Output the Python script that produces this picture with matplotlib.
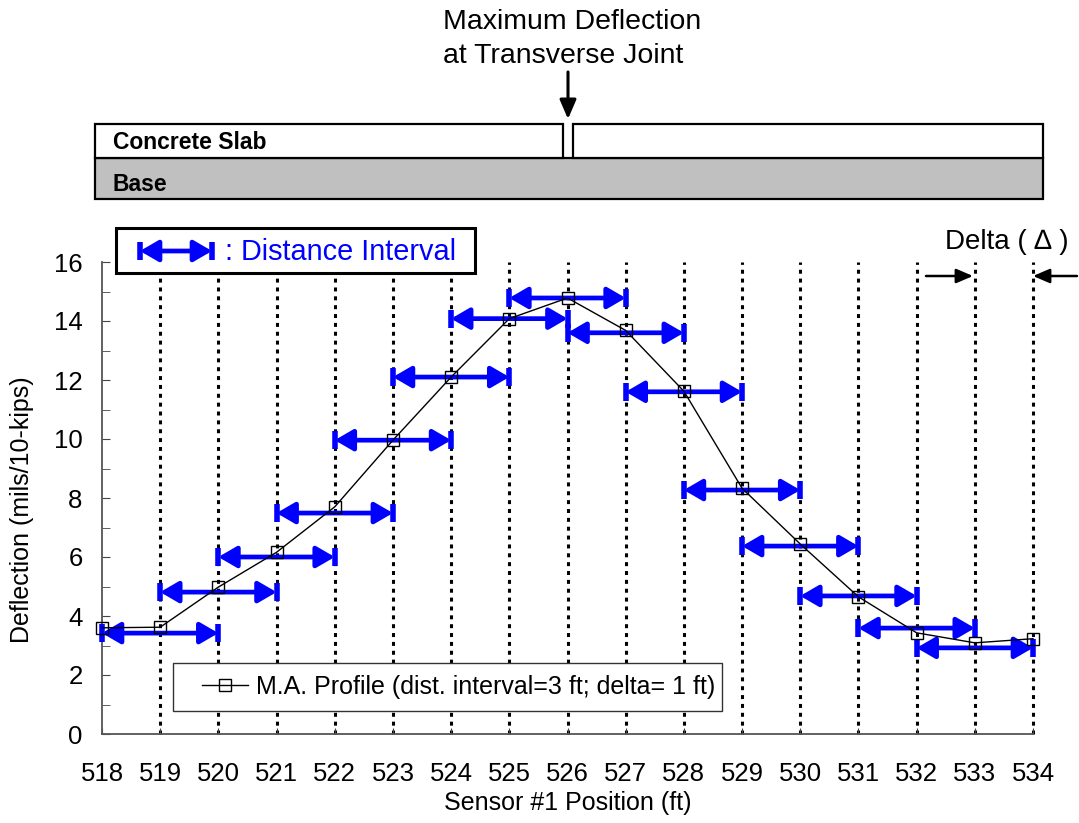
import numpy as np
import matplotlib
matplotlib.use('Agg')
import matplotlib.pyplot as plt
from matplotlib.patches import Rectangle
from matplotlib.ticker import MultipleLocator

plt.rcParams['font.family'] = ['Liberation Sans', 'DejaVu Sans']

# Moving-average profile
sensor_pos = [518, 519, 520, 521, 522, 523, 524, 525, 526, 527, 528, 529, 530, 531, 532, 533, 534]
deflection = [3.6, 3.62, 4.98, 6.16, 7.7, 9.96, 12.1, 14.08, 14.78, 13.68, 11.62, 8.33, 6.44, 4.65, 3.43, 3.09, 3.23]

# Distance intervals (3 ft window, shown between neighbouring sensors)
interval_start = [518, 519, 520, 521, 522, 523, 524, 525, 526, 527, 528, 529, 530, 531, 532]
interval_end = [520, 521, 522, 523, 524, 525, 526, 527, 528, 529, 530, 531, 532, 533, 534]
interval_y = [3.42, 4.81, 6.0, 7.49, 9.96, 12.1, 14.08, 14.78, 13.6, 11.6, 8.27, 6.37, 4.68, 3.59, 2.92]

grid_pos = [519, 520, 521, 522, 523, 524, 525, 526, 527, 528, 529, 530, 531, 532, 533, 534]

W, H = 1079, 823
fig = plt.figure(figsize=(W / 100, H / 100), dpi=100)
ax = fig.add_axes([102 / W, 1 - 734 / H, (1033 - 102) / W, (734 - 262) / H])

BLUE = '#0000ff'
ARROW = '<|-|>,head_length=0.55,head_width=0.32'

# dotted sensor lines
for xp in grid_pos:
    ax.plot([xp, xp], [0, 16], color='black', lw=2.2, ls=(0, (1.3, 1.6)), zorder=1, clip_on=False)

# distance interval arrows
for x0, x1, yv in zip(interval_start, interval_end, interval_y):
    ax.annotate('', xy=(x1, yv), xytext=(x0, yv),
                arrowprops=dict(arrowstyle=ARROW, color=BLUE, lw=3.4, shrinkA=0, shrinkB=0,
                                mutation_scale=20),
                zorder=3, annotation_clip=False)
    ax.plot([x0, x1], [yv, yv], ls='none', marker='|', ms=13, mew=4, color=BLUE, zorder=3, clip_on=False)

ax.plot(sensor_pos, deflection, color='black', lw=1, marker='s', ms=8.5, mfc='none', mec='black',
        mew=1, zorder=4, clip_on=False, label='M.A. Profile (dist. interval=3 ft; delta= 1 ft)')

ax.set_xlim(518, 534)
ax.set_ylim(0, 16)
ax.set_xticks(sensor_pos)
ax.yaxis.set_major_locator(MultipleLocator(2))
ax.yaxis.set_minor_locator(MultipleLocator(1))
ax.tick_params(axis='both', which='both', direction='in', labelsize=18.5, color='#444444')
ax.tick_params(axis='x', length=4, pad=20)
ax.tick_params(axis='y', which='both', length=6, pad=14)
for s in ['top', 'right']:
    ax.spines[s].set_visible(False)
for s in ['left', 'bottom']:
    ax.spines[s].set_color('#555555')
    ax.spines[s].set_linewidth(1.3)
ax.set_xlabel('Sensor #1 Position (ft)', fontsize=18, labelpad=4)
ax.set_ylabel('Deflection (mils/10-kips)', fontsize=18)
ax.yaxis.set_label_coords((34 - 102) / 931, (734 - 510) / 472)

# legend with a hand-drawn frame
ax.add_patch(Rectangle((173 / W, 1 - 711 / H), 549 / W, 48 / H, transform=fig.transFigure,
                       facecolor='white', edgecolor='#333333', lw=1, zorder=4.5, clip_on=False))
leg = ax.legend(loc='center left', bbox_to_anchor=((202 - 102) / 931, (734 - 687) / 472),
                fontsize=18, frameon=False, handlelength=1.85, handletextpad=0.3,
                borderpad=0, borderaxespad=0)
leg.set_zorder(5)

# overlay in pixel coordinates for the pavement sketch and notes
ov = fig.add_axes([0, 0, 1, 1], zorder=10)
ov.set_xlim(0, W)
ov.set_ylim(H, 0)
ov.axis('off')

ov.add_patch(Rectangle((95, 158), 1043 - 95, 41, facecolor='#c0c0c0', edgecolor='black', lw=1.6))
ov.add_patch(Rectangle((95, 124), 563 - 95, 34, facecolor='white', edgecolor='black', lw=1.6))
ov.add_patch(Rectangle((573, 124), 1043 - 573, 34, facecolor='white', edgecolor='black', lw=1.6))
ov.text(113, 142, 'Concrete Slab', fontsize=16.5, fontweight='bold', va='center', ha='left')
ov.text(113, 184, 'Base', fontsize=16.5, fontweight='bold', va='center', ha='left')

ov.text(443, 22, 'Maximum Deflection', fontsize=20.5, va='center', ha='left')
ov.text(443, 56, 'at Transverse Joint', fontsize=20.5, va='center', ha='left')
ov.annotate('', xy=(568, 119), xytext=(568, 72),
            arrowprops=dict(arrowstyle='-|>,head_length=0.58,head_width=0.25', color='black', lw=2.2,
                            shrinkA=0, shrinkB=0, mutation_scale=20))

# distance interval key
ov.add_patch(Rectangle((116, 228), 475 - 116, 45, facecolor='white', edgecolor='black', lw=2.2, zorder=2))
ov.annotate('', xy=(212, 251), xytext=(140, 251),
            arrowprops=dict(arrowstyle=ARROW, color=BLUE, lw=3.4, shrinkA=0, shrinkB=0,
                            mutation_scale=20), zorder=3)
ov.plot([140, 212], [251, 251], ls='none', marker='|', ms=13, mew=4, color=BLUE, zorder=3)
ov.text(225, 252, ': Distance Interval', fontsize=20.8, color=BLUE, va='center', ha='left', zorder=3)

# delta note
ov.text(1007, 242, 'Delta ( \u2206 )', fontsize=20, va='center', ha='center')
ov.annotate('', xy=(973, 276), xytext=(926, 276),
            arrowprops=dict(arrowstyle='-|>,head_length=0.56,head_width=0.24', color='black', lw=1.8,
                            shrinkA=0, shrinkB=0, mutation_scale=18))
ov.annotate('', xy=(1033, 276), xytext=(1077, 276),
            arrowprops=dict(arrowstyle='-|>,head_length=0.56,head_width=0.24', color='black', lw=1.8,
                            shrinkA=0, shrinkB=0, mutation_scale=18))

fig.savefig('out.png', dpi=100)
